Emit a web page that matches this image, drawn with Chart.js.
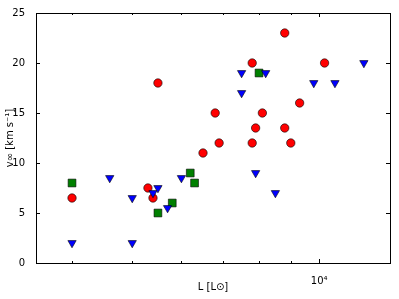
<!DOCTYPE html>
<html>
<head>
<meta charset="utf-8">
<script src="https://cdn.jsdelivr.net/npm/chart.js@4/dist/chart.umd.min.js"></script>
<style>
  html, body { margin: 0; padding: 0; background: #fff; }
  canvas { display: block; }
</style>
</head>
<body>
<canvas id="chart" width="399" height="299"></canvas>
<script>
"use strict";

// luminosity [L_sun] and terminal velocity [km/s], per group
const redL = [4000, 5300, 5400, 5500, 6500, 6800, 6900, 7800, 7800, 7900, 8100, 8800, 8800, 9000, 9300, 10200];
const redV = [6.5, 7.5, 6.5, 18, 11, 15, 12, 20, 12, 13.5, 15, 23, 13.5, 12, 16, 20];

const greenL = [4000, 5500, 5800, 6200, 6300, 8000];
const greenV = [8, 5, 6, 9, 8, 19];

const blueL = [4000, 4600, 5000, 5000, 5400, 5500, 5700, 6000, 7500, 7500, 7900, 8200, 8500, 9800, 10600, 11800];
const blueV = [2, 8.5, 6.5, 2, 7, 7.5, 5.5, 8.5, 19, 17, 9, 19, 7, 18, 18, 20];

const xTicks = [4000, 5000, 6000, 7000, 8000, 9000, 10000];
const yTicks = [0, 5, 10, 15, 20, 25];

const toPoints = (xs, ys) => xs.map((x, i) => ({x: x, y: ys[i]}));

// matplotlib-like frame with inward ticks on all four sides
const frame = {
    id: 'frame',
    afterDraw(chart) {
        const ctx = chart.ctx;
        const a = chart.chartArea;
        const sx = chart.scales.x;
        const sy = chart.scales.y;
        ctx.save();
        ctx.strokeStyle = '#000';
        ctx.lineWidth = 1;
        ctx.beginPath();
        for (let v of xTicks) {
            let px = Math.round(sx.getPixelForValue(v)) + 0.5;
            let len = v === 10000 ? 4 : 2;
            ctx.moveTo(px, a.bottom); ctx.lineTo(px, a.bottom - len);
            ctx.moveTo(px, a.top); ctx.lineTo(px, a.top + len);
        }
        for (let v of yTicks) {
            let py = Math.round(sy.getPixelForValue(v)) + 0.5;
            ctx.moveTo(a.left, py); ctx.lineTo(a.left + 4, py);
            ctx.moveTo(a.right, py); ctx.lineTo(a.right - 4, py);
        }
        ctx.stroke();
        ctx.strokeRect(Math.round(a.left) + 0.5, Math.round(a.top) + 0.5,
            Math.round(a.right - a.left), Math.round(a.bottom - a.top));
        ctx.restore();
    }
};

const font = {family: "'DejaVu Sans'", size: 10};

new Chart(document.getElementById('chart'), {
    type: 'scatter',
    data: {
        datasets: [
            {
                data: toPoints(redL, redV),
                pointStyle: 'circle', pointRadius: 4.2,
                backgroundColor: '#ff0000', borderColor: '#000', borderWidth: 0.6,
                order: 3
            },
            {
                data: toPoints(greenL, greenV),
                pointStyle: 'rect', pointRadius: 5.5,
                backgroundColor: '#008000', borderColor: '#000', borderWidth: 0.6,
                order: 2
            },
            {
                data: toPoints(blueL, blueV),
                pointStyle: 'triangle', pointRotation: 180, pointRadius: 4.8,
                backgroundColor: '#0000ff', borderColor: '#000', borderWidth: 0.6,
                order: 1
            }
        ]
    },
    options: {
        responsive: false,
        animation: false,
        devicePixelRatio: 1,
        layout: {padding: {left: 0, right: 9, top: 13, bottom: 0}},
        plugins: {legend: {display: false}, tooltip: {enabled: false}},
        scales: {
            x: {
                type: 'logarithmic',
                min: 3500, max: 13000,
                grid: {display: false},
                border: {display: false},
                afterBuildTicks: (scale) => { scale.ticks = xTicks.map(v => ({value: v})); },
                afterFit: (scale) => { scale.height = 36; },
                ticks: {
                    autoSkip: false, maxRotation: 0, padding: 4,
                    color: '#000', font: font,
                    callback: (v) => v === 10000 ? '10\u2074' : ''
                },
                title: {display: true, text: 'L [L\u2299]', color: '#000', font: font, padding: {top: 0, bottom: 6}}
            },
            y: {
                min: 0, max: 25,
                grid: {display: false},
                border: {display: false},
                afterBuildTicks: (scale) => { scale.ticks = yTicks.map(v => ({value: v})); },
                afterFit: (scale) => { scale.width = 36; },
                ticks: {padding: 3, color: '#000', font: font},
                title: {display: true, text: 'v\u221e [km s\u207b\u00b9]', color: '#000', font: font, padding: {top: 4, bottom: 0}}
            }
        }
    },
    plugins: [frame]
});
</script>
</body>
</html>
